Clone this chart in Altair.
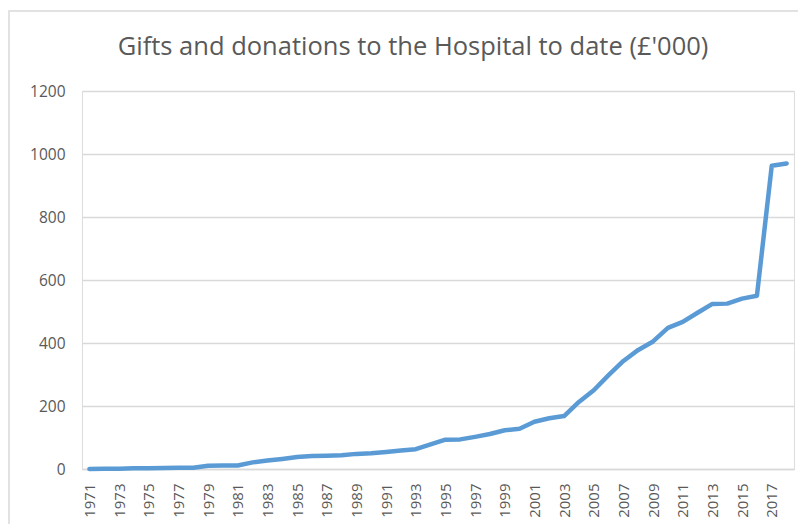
import altair as alt
import pandas as pd

title_text = "Gifts and donations to the Hospital to date (£'000)"
years = list(range(1971, 2019))
values = [0, 1, 1, 2, 2, 3, 4, 4, 10, 11,
          11, 21, 27, 32, 38, 41, 42, 44, 48, 50,
          54, 59, 63, 78, 93, 94, 102, 111, 123, 128,
          150, 161, 168, 213, 250, 298, 343, 378, 405, 448,
          467, 496, 524, 525, 541, 550, 963, 970]
label_years = [y for y in years if (y - 1971) % 2 == 0]
y_ticks = [0, 200, 400, 600, 800, 1000, 1200]

df = pd.DataFrame({"year": years, "value": values})
title_df = pd.DataFrame({"t": [title_text]})

FONT = "Open Sans"
GREY = "#595959"

line = alt.Chart(df).mark_line(
    color="#5B9BD5", strokeWidth=4.5, strokeCap="round", strokeJoin="round"
).encode(
    x=alt.X("year:O",
            scale=alt.Scale(type="point", padding=0.5),
            axis=alt.Axis(values=label_years, labelAngle=-90, title=None,
                          labelFont=FONT, labelFontSize=15, labelColor=GREY,
                          labelPadding=14, ticks=False, domain=True,
                          domainColor="#d9d9d9", domainWidth=1.5, grid=False,
                          labelBaseline="middle", labelAlign="right")),
    y=alt.Y("value:Q",
            scale=alt.Scale(domain=[0, 1200], nice=False),
            axis=alt.Axis(values=y_ticks, title=None, labelFont=FONT, format="d",
                          labelFontSize=15.5, labelColor=GREY, labelPadding=17,
                          ticks=False, domain=False, gridColor="#d9d9d9",
                          gridWidth=1.5)),
)

border = alt.Chart(title_df).mark_rect(
    fill=None, stroke="#d9d9d9", strokeWidth=1.5
).encode(
    x=alt.value(-73), x2=alt.value(720), y=alt.value(-80), y2=alt.value(450)
)

title = alt.Chart(title_df).mark_text(
    font=FONT, fontSize=25.5, color=GREY, align="center", baseline="alphabetic"
).encode(
    x=alt.value(331), y=alt.value(-36), text="t:N"
)

chart = alt.layer(border, line, title).properties(
    width=712,
    height=378,
    autosize=alt.AutoSizeParams(type="none"),
    padding={"left": 74, "top": 83, "right": 4, "bottom": 60},
).configure_view(stroke=None).configure(background="white")

chart.save("out.html", embed_options={"renderer": "svg", "actions": False})
